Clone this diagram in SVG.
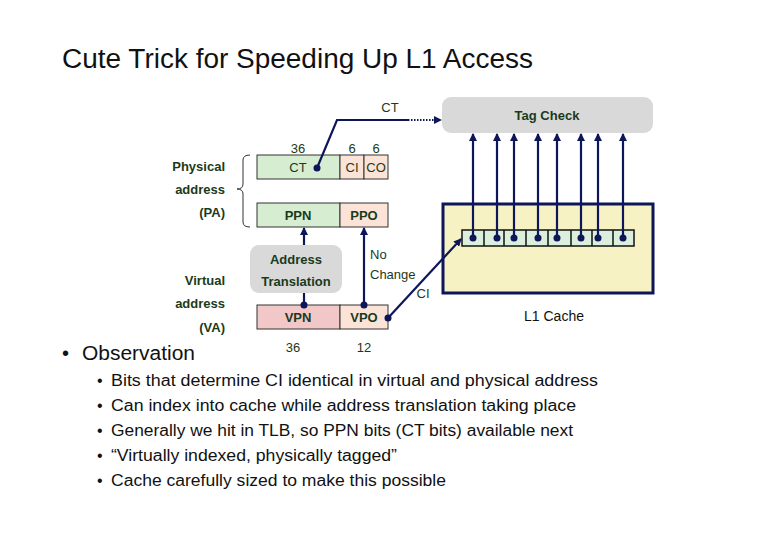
<svg xmlns="http://www.w3.org/2000/svg" width="780" height="540" viewBox="0 0 780 540">
<style>
.t{font-family:"Liberation Sans",Arial,sans-serif}
.lbl{font-family:"Liberation Sans",Arial,sans-serif;font-size:13px;fill:#1b3a1b}
.b{font-weight:bold}
.box{stroke:#333;stroke-width:1}
.g{fill:#d6edd1}
.p{fill:#fbe4d7}
.pk{fill:#f2c7c7}
.ln{stroke:#0d1659;stroke-width:2.2;fill:none}
.dot{fill:#0d1659}
.bul{font-family:"Liberation Sans",Arial,sans-serif;font-size:16px;fill:#111}
</style>
<defs>
<marker id="ah" markerWidth="8" markerHeight="8" refX="7" refY="4" orient="auto" markerUnits="userSpaceOnUse">
<path d="M0,0 L8,4 L0,8 Z" fill="#0d1659"/>
</marker>
</defs>
<rect width="780" height="540" fill="#fff"/>
<text class="t" x="62" y="68" font-size="27" fill="#111" textLength="471" lengthAdjust="spacingAndGlyphs">Cute Trick for Speeding Up L1 Access</text>

<g id="tagcheck">
<rect x="442" y="97" width="211" height="36" rx="9" fill="#d9d9d9"/>
<text class="lbl b" x="547" y="120" text-anchor="middle">Tag Check</text>
</g>

<g id="pa-labels">
<text class="lbl b" x="225" y="171" text-anchor="end">Physical</text>
<text class="lbl b" x="225" y="194" text-anchor="end">address</text>
<text class="lbl b" x="225" y="217" text-anchor="end">(PA)</text>
<path d="M250,155 Q243,155 243,160 L243,184 Q243,189 237,189 Q243,189 243,194 L243,222 Q243,227 250,227" fill="none" stroke="#333" stroke-width="1"/>
</g>

<g id="pa-ct">
<text class="lbl" x="298" y="153" text-anchor="middle" font-size="12">36</text>
<text class="lbl" x="352" y="153" text-anchor="middle" font-size="12">6</text>
<text class="lbl" x="376" y="153" text-anchor="middle" font-size="12">6</text>
<rect class="box g" x="257" y="155" width="83" height="24"/>
<rect class="box p" x="340" y="155" width="24" height="24"/>
<rect class="box p" x="364" y="155" width="24" height="24"/>
<text class="lbl" x="298" y="172" text-anchor="middle">CT</text>
<text class="lbl" x="352" y="172" text-anchor="middle">CI</text>
<text class="lbl" x="376" y="172" text-anchor="middle">CO</text>
</g>

<g id="pa-ppn">
<rect class="box g" x="257" y="203" width="83" height="24"/>
<rect class="box p" x="340" y="203" width="48" height="24"/>
<text class="lbl b" x="298" y="220" text-anchor="middle">PPN</text>
<text class="lbl b" x="364" y="220" text-anchor="middle">PPO</text>
</g>

<g id="translation">
<rect x="250" y="245" width="92" height="48" rx="9" fill="#d9d9d9"/>
<text class="lbl b" x="296" y="264" text-anchor="middle">Address</text>
<text class="lbl b" x="296" y="286" text-anchor="middle">Translation</text>
</g>

<g id="va-labels">
<text class="lbl b" x="225" y="285" text-anchor="end">Virtual</text>
<text class="lbl b" x="225" y="308" text-anchor="end">address</text>
<text class="lbl b" x="225" y="332" text-anchor="end">(VA)</text>
</g>

<g id="va">
<rect class="box pk" x="257" y="305" width="83" height="24"/>
<rect class="box p" x="340" y="305" width="48" height="24"/>
<text class="lbl b" x="298" y="322" text-anchor="middle">VPN</text>
<text class="lbl b" x="364" y="322" text-anchor="middle">VPO</text>
<text class="lbl" x="293" y="352" text-anchor="middle" font-size="12">36</text>
<text class="lbl" x="364" y="352" text-anchor="middle" font-size="12">12</text>
</g>

<g id="cache">
<rect x="443" y="204" width="210" height="89" fill="#f7f2c4" stroke="#0d1659" stroke-width="3"/>
<rect x="462" y="230" width="172" height="16" fill="#dcefdc" stroke="#111" stroke-width="1.5"/>
<g stroke="#111" stroke-width="1.5">
<line x1="484" y1="230" x2="484" y2="246"/>
<line x1="504" y1="230" x2="504" y2="246"/>
<line x1="526" y1="230" x2="526" y2="246"/>
<line x1="548" y1="230" x2="548" y2="246"/>
<line x1="571" y1="230" x2="571" y2="246"/>
<line x1="592" y1="230" x2="592" y2="246"/>
<line x1="613" y1="230" x2="613" y2="246"/>
</g>
<text class="t" x="554" y="321" text-anchor="middle" font-size="14" fill="#111">L1 Cache</text>
</g>

<g id="connectors">
<path class="ln" d="M317,168 L337,120 L408,120"/>
<line x1="408" y1="120" x2="441" y2="120" stroke="#0d1659" stroke-width="2.2" stroke-dasharray="1.5,1.5" marker-end="url(#ah)"/>
<text class="lbl" x="390" y="112" text-anchor="middle" font-size="12">CT</text>
<circle class="dot" cx="317" cy="168" r="3.5"/>

<line class="ln" x1="304" y1="305" x2="304" y2="293"/>
<circle class="dot" cx="304" cy="305" r="3.5"/>
<line class="ln" x1="304" y1="245" x2="304" y2="228" marker-end="url(#ah)"/>
<line class="ln" x1="364" y1="305" x2="364" y2="228" marker-end="url(#ah)"/>
<circle class="dot" cx="364" cy="305" r="3.5"/>
<text class="lbl" x="370" y="259" font-size="12">No</text>
<text class="lbl" x="370" y="279" font-size="12">Change</text>

<line class="ln" x1="388" y1="318" x2="461" y2="239" marker-end="url(#ah)"/>
<circle class="dot" cx="388" cy="318" r="3.5"/>
<text class="lbl" x="423" y="298" text-anchor="middle" font-size="12">CI</text>

<g>
<line class="ln" x1="473" y1="238" x2="473" y2="134" marker-end="url(#ah)"/>
<line class="ln" x1="497" y1="238" x2="497" y2="134" marker-end="url(#ah)"/>
<line class="ln" x1="514" y1="238" x2="514" y2="134" marker-end="url(#ah)"/>
<line class="ln" x1="538" y1="238" x2="538" y2="134" marker-end="url(#ah)"/>
<line class="ln" x1="557" y1="238" x2="557" y2="134" marker-end="url(#ah)"/>
<line class="ln" x1="581" y1="238" x2="581" y2="134" marker-end="url(#ah)"/>
<line class="ln" x1="598" y1="238" x2="598" y2="134" marker-end="url(#ah)"/>
<line class="ln" x1="623" y1="238" x2="623" y2="134" marker-end="url(#ah)"/>
<circle class="dot" cx="473" cy="238" r="3.5"/>
<circle class="dot" cx="497" cy="238" r="3.5"/>
<circle class="dot" cx="514" cy="238" r="3.5"/>
<circle class="dot" cx="538" cy="238" r="3.5"/>
<circle class="dot" cx="557" cy="238" r="3.5"/>
<circle class="dot" cx="581" cy="238" r="3.5"/>
<circle class="dot" cx="598" cy="238" r="3.5"/>
<circle class="dot" cx="623" cy="238" r="3.5"/>
</g>
</g>

<g id="observations">
<text class="t" x="62" y="360" font-size="20" fill="#111">•</text>
<text class="t" x="82" y="360" font-size="20" fill="#111" textLength="113" lengthAdjust="spacingAndGlyphs">Observation</text>
<text class="bul" x="97" y="386">•</text>
<text class="bul" x="111" y="386" textLength="487" lengthAdjust="spacingAndGlyphs">Bits that determine CI identical in virtual and physical address</text>
<text class="bul" x="97" y="411">•</text>
<text class="bul" x="111" y="411" textLength="465" lengthAdjust="spacingAndGlyphs">Can index into cache while address translation taking place</text>
<text class="bul" x="97" y="436">•</text>
<text class="bul" x="111" y="436" textLength="462" lengthAdjust="spacingAndGlyphs">Generally we hit in TLB, so PPN bits (CT bits) available next</text>
<text class="bul" x="97" y="461">•</text>
<text class="bul" x="111" y="461" textLength="286" lengthAdjust="spacingAndGlyphs">“Virtually indexed, physically tagged”</text>
<text class="bul" x="97" y="486">•</text>
<text class="bul" x="111" y="486" textLength="335" lengthAdjust="spacingAndGlyphs">Cache carefully sized to make this possible</text>
</g>
</svg>
